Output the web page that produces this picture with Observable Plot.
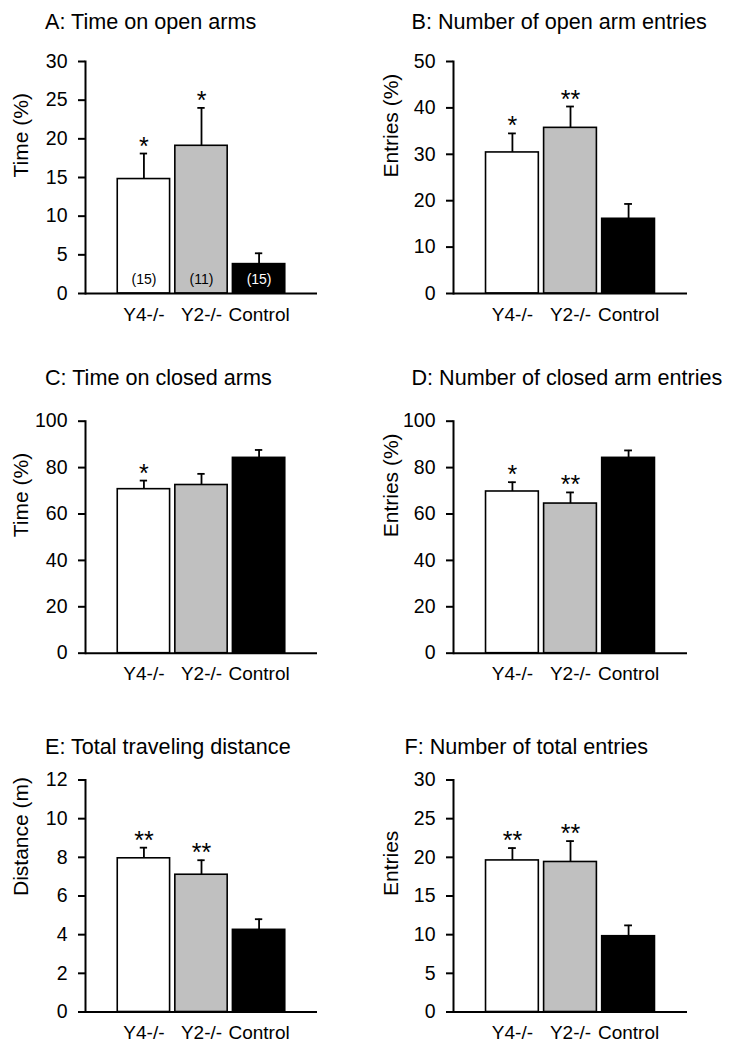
<!DOCTYPE html>
<html>
<head>
<meta charset="utf-8">
<script src="https://cdn.jsdelivr.net/npm/d3@7"></script>
<script src="https://cdn.jsdelivr.net/npm/@observablehq/plot@0.6"></script>
<style>
html, body { margin: 0; padding: 0; background: #fff; }
#fig { position: relative; width: 733px; height: 1049px; background: #fff; overflow: hidden;
  font-family: "Liberation Sans", Arial, sans-serif; color: #000; }
.title { position: absolute; font-size: 21.6px; line-height: 21px; white-space: nowrap; color: #000; }
.panel { position: absolute; }
.panel svg { overflow: visible; }
</style>
</head>
<body>
<div id="fig"></div>
<script>
// ---- data ----
const groups = ["Y4-/-", "Y2-/-", "Control"];
const groupFills = ["#ffffff", "#c0c0c0", "#000000"];
const nLabels = ["(15)", "(11)", "(15)"];

const openTimeMean = [14.8, 19.1, 3.8];
const openTimeErr = [3.3, 4.9, 1.4];
const openTimeStars = ["*", "*", ""];

const openEntriesMean = [30.4, 35.7, 16.1];
const openEntriesErr = [4.1, 4.6, 3.2];
const openEntriesStars = ["*", "**", ""];

const closedTimeMean = [70.7, 72.5, 84.2];
const closedTimeErr = [3.7, 4.8, 3.4];
const closedTimeStars = ["*", "", ""];

const closedEntriesMean = [69.7, 64.5, 84.2];
const closedEntriesErr = [4.0, 4.8, 3.2];
const closedEntriesStars = ["*", "**", ""];

const distanceMean = [7.95, 7.1, 4.25];
const distanceErr = [0.55, 0.75, 0.55];
const distanceStars = ["**", "**", ""];

const totalEntriesMean = [19.6, 19.4, 9.8];
const totalEntriesErr = [1.6, 2.7, 1.4];
const totalEntriesStars = ["**", "**", ""];

const ticksA = [0, 5, 10, 15, 20, 25, 30];
const ticksB = [0, 10, 20, 30, 40, 50];
const ticksC = [0, 20, 40, 60, 80, 100];
const ticksD = [0, 20, 40, 60, 80, 100];
const ticksE = [0, 2, 4, 6, 8, 10, 12];
const ticksF = [0, 5, 10, 15, 20, 25, 30];

// ---- layout ----
const FONT = '"Liberation Sans", Arial, sans-serif';
const fig = document.getElementById("fig");

function panel(cfg) {
  const rows = groups.map((g, i) => ({
    group: g,
    mean: cfg.mean[i],
    top: cfg.mean[i] + cfg.err[i],
    fill: groupFills[i],
    star: cfg.stars[i],
    n: cfg.n ? cfg.n[i] : "",
    nColor: i === 2 ? "#ffffff" : "#000000"
  }));
  const t = document.createElement("div");
  t.className = "title";
  t.style.left = cfg.titleLeft + "px";
  t.style.top = cfg.titleTop + "px";
  t.textContent = cfg.title;
  fig.appendChild(t);

  const marginTop = cfg.marginTop, marginBottom = 37;
  const plot = Plot.plot({
    width: 366,
    height: marginTop + 232 + marginBottom,
    marginLeft: 86,
    marginRight: cfg.marginRight,
    marginTop,
    marginBottom,
    style: {fontFamily: FONT, background: "transparent", color: "#000", overflow: "visible"},
    x: {domain: groups, paddingInner: 0.091, paddingOuter: 0.56, round: false},
    y: {domain: [0, cfg.ymax]},
    color: {type: "identity"},
    marks: [
      Plot.barY(rows, {x: "group", y: "mean", fill: "fill", stroke: "#000", strokeWidth: 1.6}),
      Plot.ruleX(rows, {x: "group", y1: "mean", y2: "top", stroke: "#000", strokeWidth: 1.8}),
      Plot.tickY(rows, {x: "group", y: "top", insetLeft: 22.5, insetRight: 22.5, stroke: "#000", strokeWidth: 1.8}),
      Plot.text(rows, {x: "group", y: "top", text: "star", fontSize: 25, lineAnchor: "bottom", dy: 1, fill: "#000"}),
      Plot.text(rows, {x: "group", y: 0, text: "n", fill: "nColor", fontSize: 14, lineAnchor: "bottom", dy: -9.5}),
      Plot.ruleY([0], {stroke: "#000", strokeWidth: 2}),
      Plot.frame({anchor: "left", stroke: "#000", strokeWidth: 2}),
      Plot.axisY({ticks: cfg.ticks, tickSize: 7, tickPadding: 11, fontSize: 19.5, label: null, strokeWidth: 2, tickFormat: d => String(d)}),
      Plot.axisX({tickSize: 0, tickPadding: 13.5, fontSize: 19, label: null}),
      Plot.text([cfg.ylabel], {frameAnchor: "left", text: d => d, rotate: -90, dx: cfg.labelDx, lineAnchor: "bottom", fontSize: 21, fill: "#000"})
    ]
  });
  const wrap = document.createElement("div");
  wrap.className = "panel";
  wrap.style.left = cfg.left + "px";
  wrap.style.top = cfg.top + "px";
  wrap.appendChild(plot);
  fig.appendChild(wrap);
}

panel({title: "A: Time on open arms", titleLeft: 45, titleTop: 10.5, left: -1, top: 40, marginTop: 21, marginRight: 48,
  mean: openTimeMean, err: openTimeErr, stars: openTimeStars, n: nLabels, ymax: 30, ticks: ticksA, ylabel: "Time (%)", labelDx: -58});
panel({title: "B: Number of open arm entries", titleLeft: 411.5, titleTop: 10.5, left: 367, top: 40, marginTop: 21, marginRight: 46,
  mean: openEntriesMean, err: openEntriesErr, stars: openEntriesStars, ymax: 50, ticks: ticksB, ylabel: "Entries (%)", labelDx: -56});
panel({title: "C: Time on closed arms", titleLeft: 45, titleTop: 366.5, left: -1, top: 400, marginTop: 20.7, marginRight: 48,
  mean: closedTimeMean, err: closedTimeErr, stars: closedTimeStars, ymax: 100, ticks: ticksC, ylabel: "Time (%)", labelDx: -58});
panel({title: "D: Number of closed arm entries", titleLeft: 411.5, titleTop: 366.5, left: 367, top: 400, marginTop: 20.7, marginRight: 46,
  mean: closedEntriesMean, err: closedEntriesErr, stars: closedEntriesStars, ymax: 100, ticks: ticksD, ylabel: "Entries (%)", labelDx: -56});
panel({title: "E: Total traveling distance", titleLeft: 45, titleTop: 736.2, left: -1, top: 760, marginTop: 19.5, marginRight: 48,
  mean: distanceMean, err: distanceErr, stars: distanceStars, ymax: 12, ticks: ticksE, ylabel: "Distance (m)", labelDx: -58});
panel({title: "F: Number of total entries", titleLeft: 404.5, titleTop: 736.2, left: 367, top: 760, marginTop: 19.5, marginRight: 46,
  mean: totalEntriesMean, err: totalEntriesErr, stars: totalEntriesStars, ymax: 30, ticks: ticksF, ylabel: "Entries", labelDx: -56});
</script>
</body>
</html>
